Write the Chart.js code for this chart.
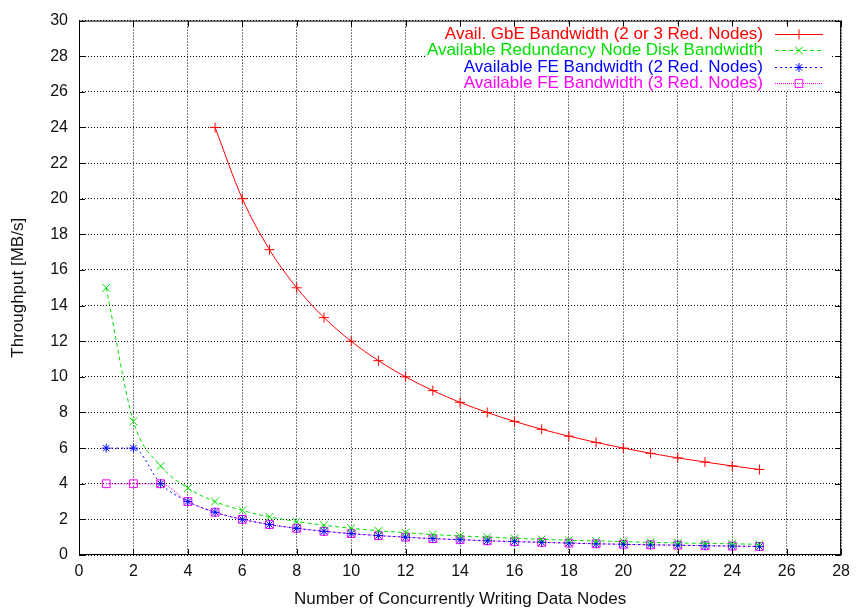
<!DOCTYPE html>
<html>
<head>
<meta charset="utf-8">
<script src="https://cdn.jsdelivr.net/npm/chart.js@4"></script>
<style>
  html, body { margin: 0; padding: 0; background: #fff; }
  #wrap { width: 857px; height: 610px; }
</style>
</head>
<body>
<div id="wrap"><canvas id="chart" width="857" height="610"></canvas></div>
<script>
// values
const gbeX   = [5, 6, 7, 8, 9, 10, 11, 12, 13, 14, 15, 16, 17, 18, 19, 20, 21, 22, 23, 24, 25];
const gbeY   = [24, 20, 17.14, 15, 13.33, 12, 10.91, 10, 9.23, 8.57, 8, 7.5, 7.06, 6.67, 6.32, 6, 5.71, 5.45, 5.22, 5, 4.8];
const nodesX = [1, 2, 3, 4, 5, 6, 7, 8, 9, 10, 11, 12, 13, 14, 15, 16, 17, 18, 19, 20, 21, 22, 23, 24, 25];
const diskY  = [15, 7.5, 5, 3.75, 3, 2.5, 2.14, 1.88, 1.67, 1.5, 1.36, 1.25, 1.15, 1.07, 1, 0.94, 0.88, 0.83, 0.79, 0.75, 0.71, 0.68, 0.65, 0.63, 0.6];
const fe2Y   = [6, 6, 4, 3, 2.4, 2, 1.71, 1.5, 1.33, 1.2, 1.09, 1, 0.92, 0.86, 0.8, 0.75, 0.71, 0.67, 0.63, 0.6, 0.57, 0.55, 0.52, 0.5, 0.48];
const fe3Y   = [4, 4, 4, 3, 2.4, 2, 1.71, 1.5, 1.33, 1.2, 1.09, 1, 0.92, 0.86, 0.8, 0.75, 0.71, 0.67, 0.63, 0.6, 0.57, 0.55, 0.52, 0.5, 0.48];
const seriesNames = [
    'Avail. GbE Bandwidth (2 or 3 Red. Nodes)',
    'Available Redundancy Node Disk Bandwidth',
    'Available FE Bandwidth (2 Red. Nodes)',
    'Available FE Bandwidth (3 Red. Nodes)'
];

const FONT = '"Liberation Sans", Arial, Helvetica, sans-serif';
const pts = (xs, ys) => xs.map((x, i) => ({ x: x, y: ys[i] }));

function ds(label, data, color, style, radius, dash) {
    return {
        label: label,
        data: data,
        borderColor: color,
        backgroundColor: 'rgba(0,0,0,0)',
        borderWidth: 1,
        borderDash: dash,
        pointStyle: style,
        pointRadius: radius,
        pointBorderColor: color,
        pointBackgroundColor: 'rgba(0,0,0,0)',
        pointBorderWidth: 1,
        pointHoverRadius: radius,
        cubicInterpolationMode: 'monotone',
        fill: false
    };
}

const datasets = [
    ds(seriesNames[0], pts(gbeX, gbeY), '#ff0000', 'cross', 5, []),
    ds(seriesNames[1], pts(nodesX, diskY), '#00e000', 'crossRot', 5.5, [4, 3]),
    ds(seriesNames[2], pts(nodesX, fe2Y), '#0000ff', 'star', 4.5, [2, 3]),
    ds(seriesNames[3], pts(nodesX, fe3Y), '#ff00ff', 'rect', 5.5, [1, 1])
];

// gnuplot-like frame, inward ticks and key
const gnuFrame = {
    id: 'gnuFrame',
    afterDraw(chart) {
        const ctx = chart.ctx;
        const a = chart.chartArea;
        const xs = chart.scales.x, ys = chart.scales.y;
        ctx.save();

        // key box cleared
        ctx.fillStyle = '#fff';
        ctx.fillRect(425, 24, 406, 67);

        ctx.strokeStyle = '#000';
        ctx.lineWidth = 1;
        ctx.setLineDash([]);
        ctx.beginPath();
        ctx.rect(a.left + 0.5, a.top + 0.5, a.right - a.left - 1, a.bottom - a.top - 1);
        ctx.stroke();

        const t = 6;
        ctx.beginPath();
        xs.ticks.forEach(tk => {
            const px = Math.round(xs.getPixelForValue(tk.value)) + 0.5;
            ctx.moveTo(px, a.bottom); ctx.lineTo(px, a.bottom - t);
            ctx.moveTo(px, a.top); ctx.lineTo(px, a.top + t);
        });
        ys.ticks.forEach(tk => {
            const py = Math.round(ys.getPixelForValue(tk.value)) + 0.5;
            ctx.moveTo(a.left, py); ctx.lineTo(a.left + t, py);
            ctx.moveTo(a.right, py); ctx.lineTo(a.right - t, py);
        });
        ctx.stroke();

        // key entries
        ctx.font = '17px ' + FONT;
        ctx.textAlign = 'right';
        ctx.textBaseline = 'middle';
        chart.data.datasets.forEach((d, i) => {
            const y = Math.round(34 + i * 16.3) + 0.5;
            ctx.fillStyle = d.borderColor;
            ctx.fillText(d.label, 763, y);
            ctx.strokeStyle = d.borderColor;
            ctx.lineWidth = 1;
            ctx.setLineDash(d.borderDash);
            ctx.beginPath();
            ctx.moveTo(775, y);
            ctx.lineTo(823, y);
            ctx.stroke();
            ctx.setLineDash([]);
            ctx.fillStyle = 'rgba(0,0,0,0)';
            Chart.helpers.drawPoint(ctx, {
                pointStyle: d.pointStyle,
                radius: d.pointRadius,
                borderWidth: 1
            }, 799, y);
        });
        ctx.restore();
    }
};

new Chart(document.getElementById('chart'), {
    type: 'line',
    data: { datasets: datasets },
    options: {
        responsive: false,
        animation: false,
        events: [],
        layout: { padding: { top: 17, right: 13, left: 0, bottom: 0 } },
        plugins: {
            legend: { display: false },
            tooltip: { enabled: false }
        },
        scales: {
            x: {
                type: 'linear',
                min: 0,
                max: 28,
                afterFit: s => { s.height = 55; },
                ticks: {
                    stepSize: 2,
                    padding: 7,
                    color: '#111',
                    font: { family: FONT, size: 16 },
                    maxRotation: 0
                },
                grid: {
                    color: '#000',
                    lineWidth: 1,
                    drawTicks: false
                },
                border: { display: false, dash: [1, 2] },
                title: {
                    display: true,
                    text: 'Number of Concurrently Writing Data Nodes',
                    color: '#111',
                    font: { family: FONT, size: 17 },
                    padding: { top: 2, bottom: 0 }
                }
            },
            y: {
                min: 0,
                max: 30,
                afterFit: s => { s.width = 79; },
                ticks: {
                    stepSize: 2,
                    padding: 11,
                    color: '#111',
                    font: { family: FONT, size: 16 }
                },
                grid: {
                    color: '#000',
                    lineWidth: 1,
                    drawTicks: false
                },
                border: { display: false, dash: [1, 2] },
                title: {
                    display: true,
                    text: 'Throughput [MB/s]',
                    color: '#111',
                    font: { family: FONT, size: 17 },
                    padding: { top: 8, bottom: 0 }
                }
            }
        }
    },
    plugins: [gnuFrame]
});
</script>
</body>
</html>
